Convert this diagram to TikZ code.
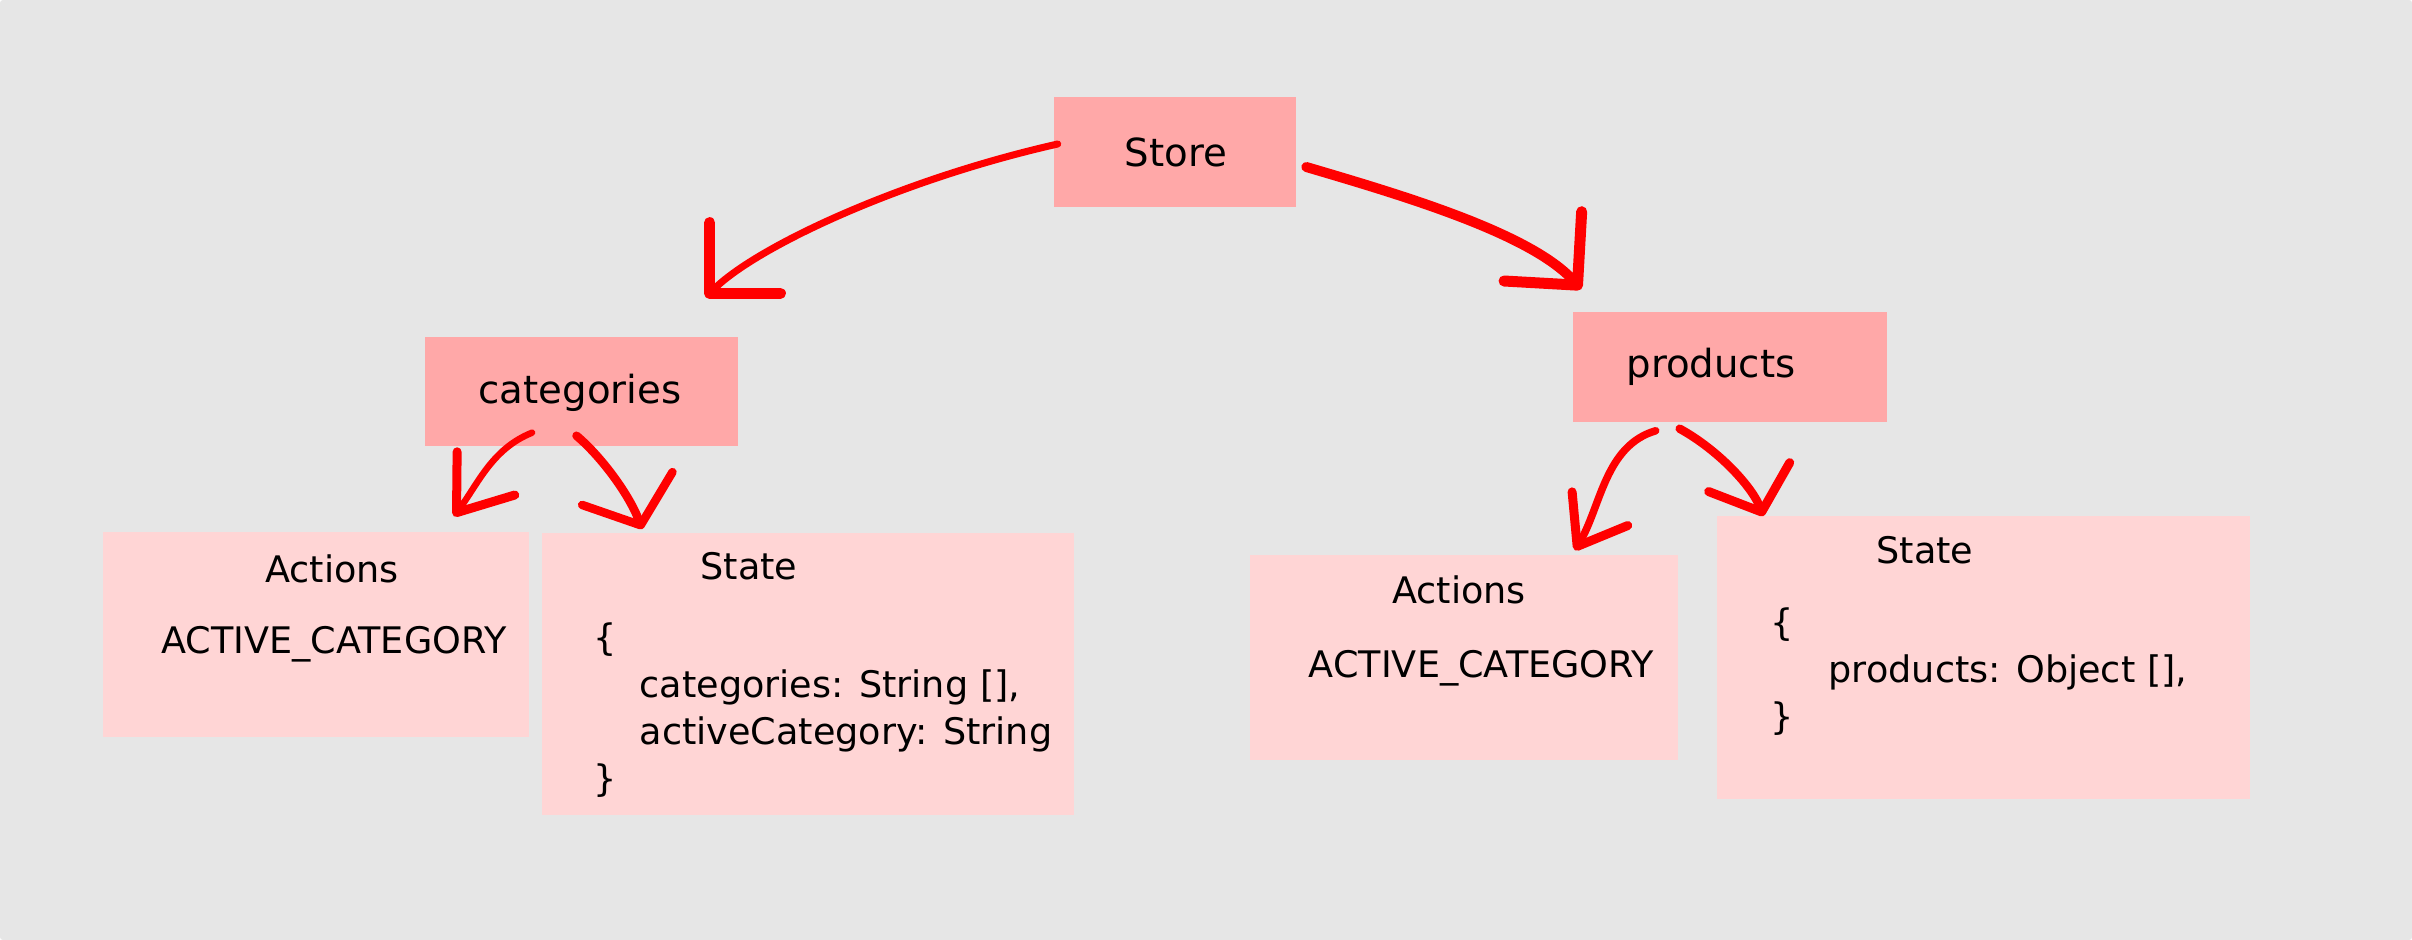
\documentclass[tikz,border=0pt]{standalone}
\usepackage{fontspec}
\setmainfont{DejaVu Sans}
\usepackage{tikz}
\usetikzlibrary{arrows.meta}
\definecolor{sheetgrey}{rgb}{0.902, 0.902, 0.902}
\definecolor{boxdark}{rgb}{1.0, 0.659, 0.659}
\definecolor{boxlight}{rgb}{1.0, 0.835, 0.835}
\definecolor{penred}{rgb}{1.0, 0, 0}

\tikzset{
    box/.style={inner sep=0pt, rectangle},
    title/.style={inner sep=0pt, anchor=base, font=\fontsize{11}{13}\selectfont},
    body/.style={inner sep=0pt, anchor=base west, font=\fontsize{10.4}{12.5}\selectfont},
    bodyc/.style={inner sep=0pt, anchor=base, font=\fontsize{10.4}{12.5}\selectfont},
    hand/.style={color=penred, line cap=round, line join=round},
    handtip/.style n args={3}{-{Straight Barb[length=#1, width=#2, line width=#3, round]}}
}

\begin{document}
\begin{tikzpicture}[x=0.01cm, y=-0.01cm]
        \useasboundingbox (0,0) rectangle (2412,940);
        \fill [white] (0,0) rectangle (2412,940);
        \fill [sheetgrey, rounded corners=0.03cm] (0,0) rectangle (2412,940);

        % top level
        \node (store) [box, fill=boxdark, minimum width=2.41cm, minimum height=1.10cm] at (1175,152) {};
        \node (catg)  [box, fill=boxdark, minimum width=3.13cm, minimum height=1.09cm] at (581.5,391.5) {};
        \node (prod)  [box, fill=boxdark, minimum width=3.135cm, minimum height=1.10cm] at (1729.7,367) {};

        \node (storetxt) [title] at (1176,166.5) {Store};
        \node (catgtxt)  [title] at (580,403) {categories};
        \node (prodtxt)  [title] at (1711,378) {products};

        % categories module
        \node (catgact)   [box, fill=boxlight, minimum width=4.26cm, minimum height=2.05cm] at (316,634.5) {};
        \node (catgstate) [box, fill=boxlight, minimum width=5.315cm, minimum height=2.82cm] at (807.7,674) {};

        \node (catgacthead) [bodyc] at (332,582) {Actions};
        \node (catgactname) [bodyc] at (334,653) {ACTIVE\_CATEGORY};

        \node (catgsthead) [bodyc] at (749,580) {State};
        \node (catgst1) [body] at (593,650) {\{};
        \node (catgst2) [body] at (639,697) {categories: String [],};
        \node (catgst3) [body] at (639,744) {activeCategory: String};
        \node (catgst4) [body] at (593,791) {\}};

        % products module
        \node (prodact)   [box, fill=boxlight, minimum width=4.28cm, minimum height=2.05cm] at (1464,657.5) {};
        \node (prodstate) [box, fill=boxlight, minimum width=5.33cm, minimum height=2.83cm] at (1983.5,657.5) {};

        \node (prodacthead) [bodyc] at (1459,603) {Actions};
        \node (prodactname) [bodyc] at (1481.5,677) {ACTIVE\_CATEGORY};

        \node (prodsthead) [bodyc] at (1925,563) {State};
        \node (prodst1) [body] at (1770,635) {\{};
        \node (prodst2) [body] at (1828,682) {products: Object [],};
        \node (prodst3) [body] at (1770,729) {\}};

        % hand drawn arrows
        \draw [hand, line width=0.07cm, handtip={5mm}{10mm}{0.11cm}]
            ([shift={(4,-8)}]store.west) .. controls +(-159,36) and +(50,-50) .. ([shift={(-33,-39)}]catg.north east);
        \draw [hand, line width=0.10cm, handtip={5.2mm}{10.4mm}{0.11cm}]
            ([shift={(10,15)}]store.east) .. controls +(95,28) and +(-50,-56) .. ([shift={(9,-22)}]prod.north west);

        \draw [hand, line width=0.065cm, handtip={4.9mm}{7.2mm}{0.09cm}]
            ([shift={(-49.5,-14)}]catg.south) .. controls +(-40,16) and +(24,-32) .. ([shift={(-76,-15)}]catgact.north east);
        \draw [hand, line width=0.085cm, handtip={3.9mm}{9.6mm}{0.085cm}]
            ([shift={(-5,-11)}]catg.south) .. controls +(26,22) and +(-12,-33) .. ([shift={(101,-3)}]catgstate.north west);

        \draw [hand, line width=0.075cm, handtip={4.4mm}{6.5mm}{0.09cm}]
            ([shift={(-74,8)}]prod.south) .. controls +(-51,15) and +(26,-43) .. ([shift={(-104,-4)}]prodact.north east);
        \draw [hand, line width=0.085cm, handtip={3.7mm}{8.6mm}{0.09cm}]
            ([shift={(-50,6)}]prod.south) .. controls +(40,22) and +(-10,-28) .. ([shift={(47,1)}]prodstate.north west);
\end{tikzpicture}
\end{document}
